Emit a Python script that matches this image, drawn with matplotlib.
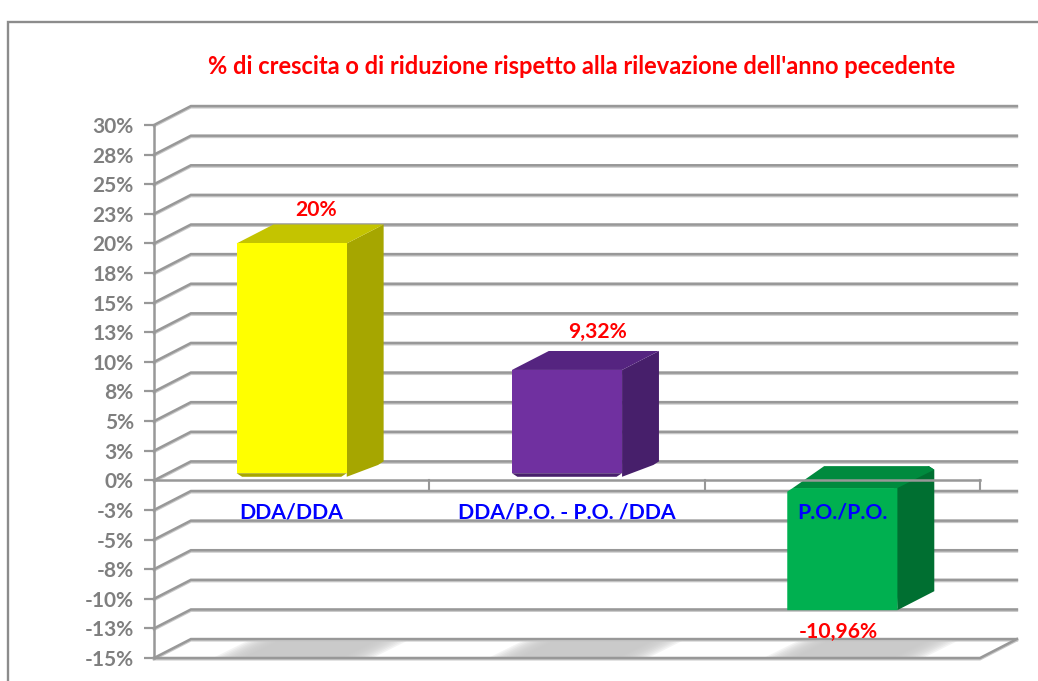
import matplotlib
matplotlib.use("Agg")
import matplotlib.pyplot as plt
import matplotlib.patheffects as pe
from matplotlib.patches import Polygon, Rectangle

categories = ["DDA/DDA", "DDA/P.O. - P.O. /DDA", "P.O./P.O."]
values = [20, 9.32, -10.96]
value_labels = ["20%", "9,32%", "-10,96%"]
tick_values = [30, 27.5, 25, 22.5, 20, 17.5, 15, 12.5, 10, 7.5, 5, 2.5, 0,
               -2.5, -5, -7.5, -10, -12.5, -15]
tick_labels = ["30%", "28%", "25%", "23%", "20%", "18%", "15%", "13%", "10%", "8%", "5%", "3%", "0%",
               "-3%", "-5%", "-8%", "-10%", "-13%", "-15%"]
front_colors = ["#ffff00", "#7030a0", "#00b050"]
top_colors = ["#c4c400", "#552480", "#008a3e"]
side_colors = ["#a6a600", "#471f6b", "#006f31"]

GRID = "#989898"
DX = 0.134   # depth of the box, in x units
DY = 1.6     # depth of the box, in percent
BAR_W = 0.4
W, H = 1038, 681

plt.rcParams["font.family"] = ["Lato", "DejaVu Sans"]
plt.rcParams["font.weight"] = "bold"

fig = plt.figure(figsize=(W / 100, H / 100), dpi=100)
ax = fig.add_axes([154 / W, 1 - 658 / H, 826 / W, 533 / H])
ax.set_xlim(-0.5, 2.5)
ax.set_ylim(-15, 30)

# outer frame of the chart
fig.add_artist(Rectangle((8 / W, -0.05), 1.2, 1 - 22 / H + 0.05, transform=fig.transFigure,
                         fill=False, ec="#8c8c8c", lw=1.7))

soft = [pe.SimpleLineShadow(offset=(0, -0.9), shadow_color="#c8c8c8", alpha=1), pe.Normal()]

x0, x1 = ax.get_xlim()
for t in tick_values:
    # back wall and left wall
    ax.plot([x0, x0 + DX, x1 + DX], [t, t + DY, t + DY], color=GRID, lw=1.8,
            clip_on=False, zorder=1, solid_joinstyle="miter", path_effects=soft)

# shadows on the floor, soft edge made of a few layers
for i in range(len(values)):
    for k in range(10):
        grow = 0.29 - 0.012 * k
        ax.add_patch(Polygon([(i - grow, -15.05), (i + grow, -15.05),
                              (i + grow + DX, -15 + DY - 0.1), (i - grow + DX, -15 + DY - 0.1)],
                             fc="#c6c6c6", ec="none", alpha=0.2, zorder=1.5, clip_on=False))

# floor
ax.plot([x0, x1, x1 + DX], [-15, -15, -15 + DY], color=GRID, lw=1.8, clip_on=False, zorder=1.6,
        path_effects=soft)


def draw_bar(i, value):
    left, right = i - BAR_W / 2, i + BAR_W / 2
    # bevel keeps the box slightly away from the zero line
    start = 0.3 if value > 0 else -0.65
    cut = 0.02
    cy = 0.3
    if value > 0:
        side = [(right, value), (right + DX, value + DY), (right + DX, start + DY - cy),
                (right + DX - cut, start + DY - 2 * cy), (right, start)]
    else:
        back = start + DY + 0.25
        side = [(right, value), (right + DX, value + DY), (right + DX, back - cy),
                (right + DX - cut, back), (right - DX * 0.1, start + 0.05)]
    ax.add_patch(Polygon(side, fc=side_colors[i], ec="none", zorder=2))
    if value > 0:
        ax.add_patch(Polygon([(left, value), (left + DX, value + DY), (right + DX, value + DY), (right, value)],
                             fc=top_colors[i], ec="none", zorder=2))
        lip = [(left, start + cy), (left + cut, start), (right - cut, start), (right, start + cy)]
        ax.add_patch(Polygon(lip, fc=side_colors[i], ec="none", zorder=2))
        front = [(left, value), (right, value), (right, start + cy), (left, start + cy)]
    else:
        ax.add_patch(Polygon([(left + cut, start), (left + DX, back), (right + DX - cut, back),
                              (right + DX, back - cy), (right, start)],
                             fc=top_colors[i], ec="none", zorder=2))
        front = [(left, value), (right, value), (right, start), (left + cut, start), (left, start - cy)]
    ax.add_patch(Polygon(front, fc=front_colors[i], ec="none", zorder=2.1))


for i, value in enumerate(values):
    draw_bar(i, value)

# zero line sits over the boxes, with ticks between the categories
ax.plot([x0, x1], [0, 0], color=GRID, lw=1.8, zorder=3, clip_on=False)
for b in [0.5, 1.5, 2.5]:
    ax.plot([b, b], [0, -0.7], color=GRID, lw=1.5, zorder=3, clip_on=False)

ax.set_yticks(tick_values)
ax.set_yticklabels(tick_labels, fontsize=15, color="#7f7f7f", fontweight="bold")
ax.tick_params(axis="y", length=7, width=1.6, color=GRID, pad=7.5)
ax.set_xticks([])
for name in ["top", "right", "bottom"]:
    ax.spines[name].set_visible(False)
ax.spines["left"].set_color(GRID)
ax.spines["left"].set_linewidth(1.8)
ax.patch.set_visible(False)

for i, name in enumerate(categories):
    ax.text(i, -2.7, name, ha="center", va="center", color="#0000ff", fontsize=15.3, zorder=4)

label_pos = [(0.09, 22.8), (1.11, 12.5), (1.985, -12.8)]
for (lx, ly), text in zip(label_pos, value_labels):
    ax.text(lx, ly, text, ha="center", va="center", color="#ff0000", fontsize=15.2, zorder=4)

fig.text(581.5 / W, 1 - 66 / H, "% di crescita o di riduzione rispetto alla rilevazione dell'anno pecedente",
         ha="center", va="center", color="#ff0000", fontsize=17)

fig.savefig("out.png", dpi=100)
